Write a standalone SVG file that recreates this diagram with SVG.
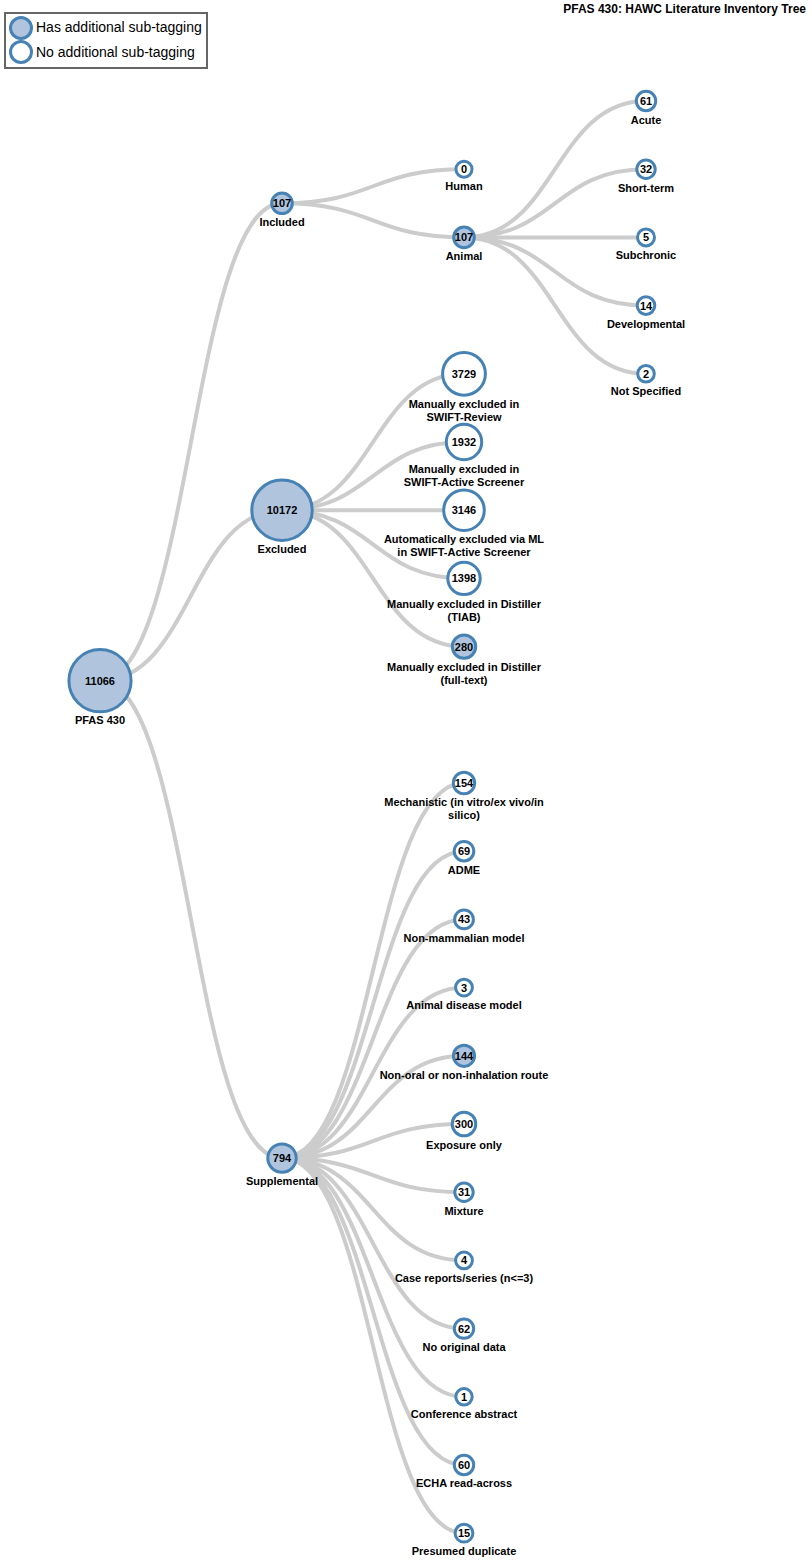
<svg xmlns="http://www.w3.org/2000/svg" width="812" height="1561" viewBox="0 0 812 1561">
<style>
.link{fill:none;stroke:#ccc;stroke-width:4}
.node circle{stroke:#4682b4;stroke-width:3}
.sub{fill:#b0c4de}
.leaf{fill:#fff}
.num{font-family:"Liberation Sans",Arial,sans-serif;font-weight:bold;font-size:11px;text-anchor:middle;fill:#000}
.lbl{font-family:"Liberation Sans",Arial,sans-serif;font-weight:bold;font-size:11px;text-anchor:middle;fill:#000}
.title{font-family:"Liberation Sans",Arial,sans-serif;font-weight:bold;font-size:12px;text-anchor:end;fill:#000}
.leg{font-family:"Liberation Sans",Arial,sans-serif;font-size:14px;fill:#000}
</style>
<rect width="812" height="1561" fill="#fff"/>
<text class="title" x="806" y="13">PFAS 430: HAWC Literature Inventory Tree</text>
<g id="legend">
<rect x="5" y="13" width="202" height="55" fill="#fff" stroke="#666" stroke-width="2"/>
<circle cx="21" cy="28" r="10.5" class="sub" stroke="#4682b4" stroke-width="3"/>
<text class="leg" x="36" y="32">Has additional sub-tagging</text>
<circle cx="21" cy="52" r="10.5" class="leaf" stroke="#4682b4" stroke-width="3"/>
<text class="leg" x="36" y="57">No additional sub-tagging</text>
</g>
<g id="links">
<path class="link" d="M100,680.7 C191,680.7 191,203.3 282,203.3"/>
<path class="link" d="M100,680.7 C191,680.7 191,510.2 282,510.2"/>
<path class="link" d="M100,680.7 C191,680.7 191,1158.1 282,1158.1"/>
<path class="link" d="M282,203.3 C373,203.3 373,169.2 464,169.2"/>
<path class="link" d="M282,203.3 C373,203.3 373,237.4 464,237.4"/>
<path class="link" d="M464,237.4 C555,237.4 555,101 646,101"/>
<path class="link" d="M464,237.4 C555,237.4 555,169.2 646,169.2"/>
<path class="link" d="M464,237.4 C555,237.4 555,237.4 646,237.4"/>
<path class="link" d="M464,237.4 C555,237.4 555,305.6 646,305.6"/>
<path class="link" d="M464,237.4 C555,237.4 555,373.8 646,373.8"/>
<path class="link" d="M282,510.2 C373,510.2 373,373.8 464,373.8"/>
<path class="link" d="M282,510.2 C373,510.2 373,442 464,442"/>
<path class="link" d="M282,510.2 C373,510.2 373,510.2 464,510.2"/>
<path class="link" d="M282,510.2 C373,510.2 373,578.4 464,578.4"/>
<path class="link" d="M282,510.2 C373,510.2 373,646.6 464,646.6"/>
<path class="link" d="M282,1158.1 C373,1158.1 373,783 464,783"/>
<path class="link" d="M282,1158.1 C373,1158.1 373,851.2 464,851.2"/>
<path class="link" d="M282,1158.1 C373,1158.1 373,919.4 464,919.4"/>
<path class="link" d="M282,1158.1 C373,1158.1 373,987.6 464,987.6"/>
<path class="link" d="M282,1158.1 C373,1158.1 373,1055.8 464,1055.8"/>
<path class="link" d="M282,1158.1 C373,1158.1 373,1124 464,1124"/>
<path class="link" d="M282,1158.1 C373,1158.1 373,1192.2 464,1192.2"/>
<path class="link" d="M282,1158.1 C373,1158.1 373,1260.4 464,1260.4"/>
<path class="link" d="M282,1158.1 C373,1158.1 373,1328.6 464,1328.6"/>
<path class="link" d="M282,1158.1 C373,1158.1 373,1396.8 464,1396.8"/>
<path class="link" d="M282,1158.1 C373,1158.1 373,1465 464,1465"/>
<path class="link" d="M282,1158.1 C373,1158.1 373,1533.2 464,1533.2"/>
</g>
<g id="n-root" class="node"><circle cx="100" cy="680.7" r="31.1" class="sub"/><text class="num" x="100" y="684.6">11066</text><text class="lbl" x="100" y="723.5">PFAS 430</text></g>
<g id="n-included" class="node"><circle cx="282" cy="203.3" r="10.3" class="sub"/><text class="num" x="282" y="207.2">107</text><text class="lbl" x="282" y="226">Included</text></g>
<g id="n-excluded" class="node"><circle cx="282" cy="510.2" r="30.2" class="sub"/><text class="num" x="282" y="514.1">10172</text><text class="lbl" x="282" y="553">Excluded</text></g>
<g id="n-supplemental" class="node"><circle cx="282" cy="1158.1" r="14.2" class="sub"/><text class="num" x="282" y="1162">794</text><text class="lbl" x="282" y="1185">Supplemental</text></g>
<g id="n-human" class="node"><circle cx="464" cy="169.2" r="8" class="leaf"/><text class="num" x="464" y="173.1">0</text><text class="lbl" x="464" y="190">Human</text></g>
<g id="n-animal" class="node"><circle cx="464" cy="237.4" r="10.3" class="sub"/><text class="num" x="464" y="241.3">107</text><text class="lbl" x="464" y="260">Animal</text></g>
<g id="n-acute" class="node"><circle cx="646" cy="101" r="9.7" class="leaf"/><text class="num" x="646" y="104.9">61</text><text class="lbl" x="646" y="123.5">Acute</text></g>
<g id="n-shortterm" class="node"><circle cx="646" cy="169.2" r="9.2" class="leaf"/><text class="num" x="646" y="173.1">32</text><text class="lbl" x="646" y="191.5">Short-term</text></g>
<g id="n-subchronic" class="node"><circle cx="646" cy="237.4" r="8.5" class="leaf"/><text class="num" x="646" y="241.3">5</text><text class="lbl" x="646" y="259">Subchronic</text></g>
<g id="n-developmental" class="node"><circle cx="646" cy="305.6" r="8.8" class="leaf"/><text class="num" x="646" y="309.5">14</text><text class="lbl" x="646" y="327.5">Developmental</text></g>
<g id="n-notspecified" class="node"><circle cx="646" cy="373.8" r="8.3" class="leaf"/><text class="num" x="646" y="377.7">2</text><text class="lbl" x="646" y="395">Not Specified</text></g>
<g id="n-swiftreview" class="node"><circle cx="464" cy="373.8" r="21.4" class="leaf"/><text class="num" x="464" y="377.7">3729</text><text class="lbl" x="464" y="407.5">Manually excluded in</text><text class="lbl" x="464" y="420.5">SWIFT-Review</text></g>
<g id="n-swiftactive" class="node"><circle cx="464" cy="442" r="17.7" class="leaf"/><text class="num" x="464" y="445.9">1932</text><text class="lbl" x="464" y="472.5">Manually excluded in</text><text class="lbl" x="464" y="485.5">SWIFT-Active Screener</text></g>
<g id="n-ml" class="node"><circle cx="464" cy="510.2" r="20.3" class="leaf"/><text class="num" x="464" y="514.1">3146</text><text class="lbl" x="464" y="543">Automatically excluded via ML</text><text class="lbl" x="464" y="556">in SWIFT-Active Screener</text></g>
<g id="n-tiab" class="node"><circle cx="464" cy="578.4" r="16.2" class="leaf"/><text class="num" x="464" y="582.3">1398</text><text class="lbl" x="464" y="607.5">Manually excluded in Distiller</text><text class="lbl" x="464" y="620.5">(TIAB)</text></g>
<g id="n-fulltext" class="node"><circle cx="464" cy="646.6" r="11.7" class="sub"/><text class="num" x="464" y="650.5">280</text><text class="lbl" x="464" y="671">Manually excluded in Distiller</text><text class="lbl" x="464" y="684">(full-text)</text></g>
<g id="n-mechanistic" class="node"><circle cx="464" cy="783" r="10.7" class="leaf"/><text class="num" x="464" y="786.9">154</text><text class="lbl" x="464" y="806">Mechanistic (in vitro/ex vivo/in</text><text class="lbl" x="464" y="819">silico)</text></g>
<g id="n-adme" class="node"><circle cx="464" cy="851.2" r="9.8" class="leaf"/><text class="num" x="464" y="855.1">69</text><text class="lbl" x="464" y="874">ADME</text></g>
<g id="n-nonmammalian" class="node"><circle cx="464" cy="919.4" r="9.4" class="leaf"/><text class="num" x="464" y="923.3">43</text><text class="lbl" x="464" y="942">Non-mammalian model</text></g>
<g id="n-disease" class="node"><circle cx="464" cy="987.6" r="8.4" class="leaf"/><text class="num" x="464" y="991.5">3</text><text class="lbl" x="464" y="1009">Animal disease model</text></g>
<g id="n-nonoral" class="node"><circle cx="464" cy="1055.8" r="10.6" class="sub"/><text class="num" x="464" y="1059.7">144</text><text class="lbl" x="464" y="1079">Non-oral or non-inhalation route</text></g>
<g id="n-exposure" class="node"><circle cx="464" cy="1124" r="11.8" class="leaf"/><text class="num" x="464" y="1127.9">300</text><text class="lbl" x="464" y="1148.5">Exposure only</text></g>
<g id="n-mixture" class="node"><circle cx="464" cy="1192.2" r="9.2" class="leaf"/><text class="num" x="464" y="1196.1">31</text><text class="lbl" x="464" y="1214.5">Mixture</text></g>
<g id="n-casereports" class="node"><circle cx="464" cy="1260.4" r="8.4" class="leaf"/><text class="num" x="464" y="1264.3">4</text><text class="lbl" x="464" y="1282">Case reports/series (n&lt;=3)</text></g>
<g id="n-nooriginal" class="node"><circle cx="464" cy="1328.6" r="9.7" class="leaf"/><text class="num" x="464" y="1332.5">62</text><text class="lbl" x="464" y="1351">No original data</text></g>
<g id="n-conference" class="node"><circle cx="464" cy="1396.8" r="8.2" class="leaf"/><text class="num" x="464" y="1400.7">1</text><text class="lbl" x="464" y="1418">Conference abstract</text></g>
<g id="n-echa" class="node"><circle cx="464" cy="1465" r="9.7" class="leaf"/><text class="num" x="464" y="1468.9">60</text><text class="lbl" x="464" y="1487">ECHA read-across</text></g>
<g id="n-duplicate" class="node"><circle cx="464" cy="1533.2" r="8.9" class="leaf"/><text class="num" x="464" y="1537.1">15</text><text class="lbl" x="464" y="1555">Presumed duplicate</text></g>
</svg>
